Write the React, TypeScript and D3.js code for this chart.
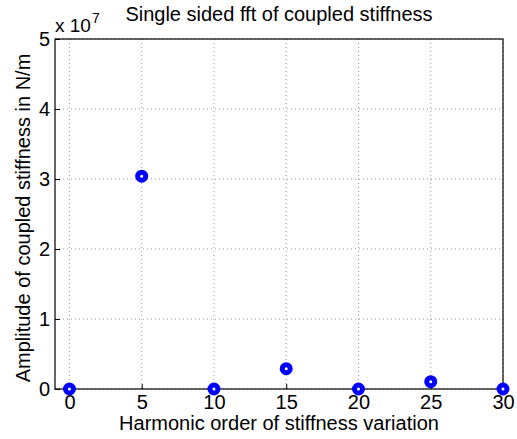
import React, { useEffect, useRef } from 'react';
import * as d3 from 'd3';

const harmonics = [0, 5, 10, 15, 20, 25, 30];
const amplitudes = [0, 3.04e7, 0, 0.29e7, 0, 0.105e7, 0];
const xTicks = [0, 5, 10, 15, 20, 25, 30];
const yTicks = [0, 1, 2, 3, 4, 5];

const App = () => {
  const svgRef = useRef<SVGSVGElement>(null);

  useEffect(() => {
    const svg = d3.select(svgRef.current);
    svg.selectAll('*').remove();
    const width = 517;
    const height = 439;
    const margin = { top: 39, right: 14, bottom: 50, left: 55 };
    const innerWidth = width - margin.left - margin.right;
    const innerHeight = height - margin.top - margin.bottom;
    const font = '"Liberation Sans", Arial, sans-serif';

    const xScale = d3.scaleLinear().domain([-1, 30]).range([0, innerWidth]);
    const yScale = d3.scaleLinear().domain([0, 5e7]).range([innerHeight, 0]);

    const g = svg.append('g')
      .attr('transform', `translate(${margin.left},${margin.top})`);

    // dotted grid
    g.selectAll('.vgrid')
      .data(xTicks)
      .enter().append('line')
      .attr('x1', d => xScale(d)).attr('x2', d => xScale(d))
      .attr('y1', 0).attr('y2', innerHeight)
      .attr('stroke', '#999')
      .attr('stroke-dasharray', '1,3');

    g.selectAll('.hgrid')
      .data(yTicks)
      .enter().append('line')
      .attr('x1', 0).attr('x2', innerWidth)
      .attr('y1', d => yScale(d * 1e7)).attr('y2', d => yScale(d * 1e7))
      .attr('stroke', '#999')
      .attr('stroke-dasharray', '1,3');

    // box
    g.append('rect')
      .attr('x', 0).attr('y', 0)
      .attr('width', innerWidth).attr('height', innerHeight)
      .attr('fill', 'none')
      .attr('stroke', 'black')
      .attr('stroke-width', 1.2);

    const xAxis = d3.axisBottom(xScale)
      .tickValues(xTicks)
      .tickSize(-5)
      .tickPadding(6)
      .tickFormat(d3.format('d'));

    const yAxis = d3.axisLeft(yScale)
      .tickValues(yTicks.map(d => d * 1e7))
      .tickSize(-5)
      .tickPadding(5)
      .tickFormat(d => `${Math.round(+d / 1e7)}`);

    const xg = g.append('g')
      .attr('transform', `translate(0,${innerHeight})`)
      .call(xAxis);
    const yg = g.append('g').call(yAxis);

    [xg, yg].forEach(ax => {
      ax.select('.domain').remove();
      ax.selectAll('line').attr('stroke', 'black');
      ax.selectAll('text')
        .attr('fill', 'black')
        .style('font-family', font)
        .style('font-size', '20px');
    });

    // points
    g.selectAll('.dot')
      .data(harmonics.map((h, i) => ({ h, a: amplitudes[i] })))
      .enter().append('circle')
      .attr('cx', d => xScale(d.h))
      .attr('cy', d => yScale(d.a))
      .attr('r', 4)
      .attr('fill', 'white')
      .attr('stroke', '#0000ff')
      .attr('stroke-width', 5);

    // exponent
    const ex = svg.append('text')
      .attr('x', margin.left)
      .attr('y', 32)
      .style('font-family', font)
      .style('font-size', '19px');
    ex.append('tspan').text('x 10');
    ex.append('tspan').attr('dy', -9).attr('dx', 1).style('font-size', '14px').text('7');

    svg.append('text')
      .attr('x', margin.left + innerWidth / 2)
      .attr('y', 21)
      .attr('text-anchor', 'middle')
      .style('font-family', font)
      .style('font-size', '20px')
      .text('Single sided fft of coupled stiffness');

    svg.append('text')
      .attr('x', margin.left + innerWidth / 2)
      .attr('y', 430)
      .attr('text-anchor', 'middle')
      .style('font-family', font)
      .style('font-size', '20px')
      .text('Harmonic order of stiffness variation');

    svg.append('text')
      .attr('transform', `translate(30,${margin.top + innerHeight / 2 + 4}) rotate(-90)`)
      .attr('text-anchor', 'middle')
      .style('font-family', font)
      .style('font-size', '20px')
      .text('Amplitude of coupled stiffness in N/m');
  }, []);

  return (
    <svg width={517} height={439} ref={svgRef} style={{ position: 'absolute', left: 0, top: 0, background: 'white' }}></svg>
  );
};

export default App;
